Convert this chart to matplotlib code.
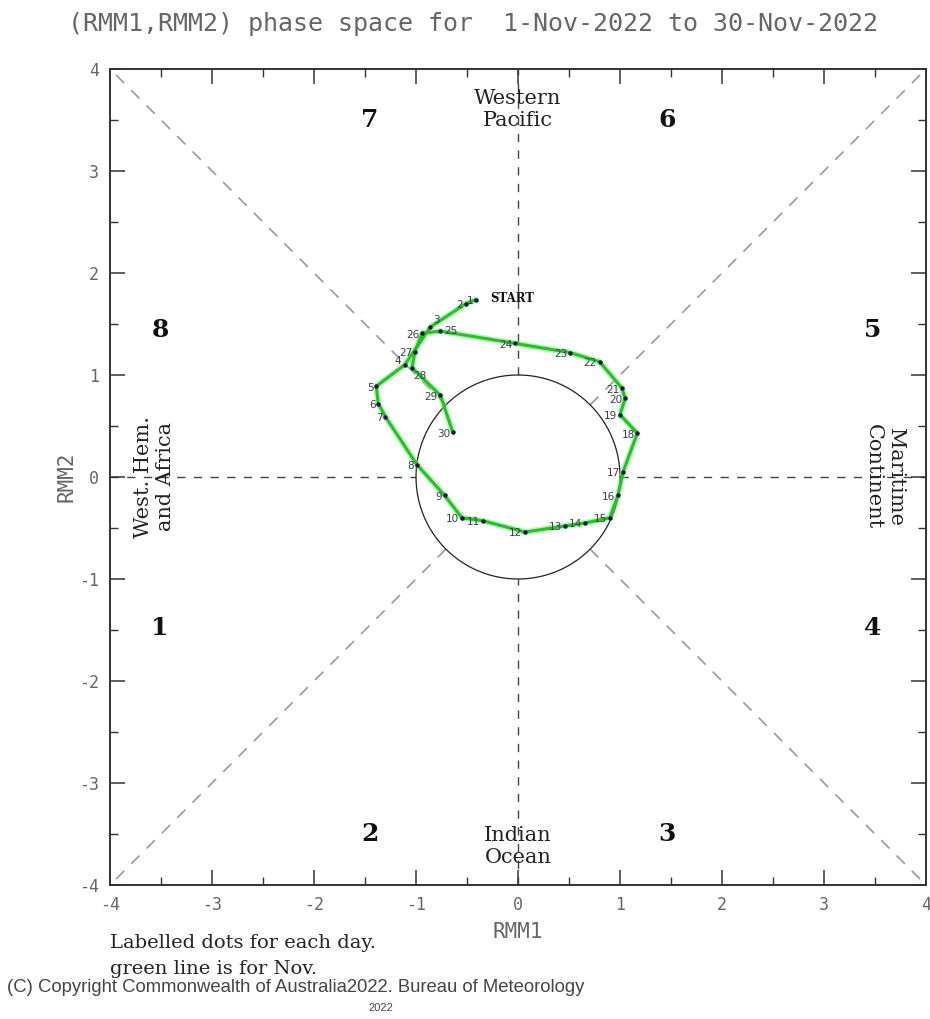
import numpy as np
import matplotlib
matplotlib.use("Agg")
import matplotlib.pyplot as plt
from matplotlib.ticker import MultipleLocator

# Daily RMM index values, 1-30 Nov 2022
days = list(range(1, 31))
rmm1 = [-0.41, -0.51, -0.86, -1.11, -1.39, -1.37, -1.30, -0.99, -0.72, -0.55,
        -0.34, 0.07, 0.46, 0.66, 0.90, 0.98, 1.03, 1.17, 1.00, 1.05,
        1.02, 0.80, 0.51, -0.03, -0.76, -0.94, -1.01, -1.04, -0.76, -0.64]
rmm2 = [1.74, 1.70, 1.47, 1.10, 0.89, 0.72, 0.59, 0.12, -0.18, -0.40,
        -0.43, -0.54, -0.48, -0.45, -0.40, -0.18, 0.05, 0.43, 0.61, 0.77,
        0.87, 1.13, 1.22, 1.31, 1.43, 1.41, 1.23, 1.07, 0.80, 0.44]

phase_labels = ["1", "2", "3", "4", "5", "6", "7", "8"]
phase_x = [-3.51, -1.45, 1.46, 3.48, 3.48, 1.46, -1.45, -3.51]
phase_y = [-1.48, -3.50, -3.50, -1.48, 1.44, 3.50, 3.50, 1.44]

tick_values = [-4, -3, -2, -1, 0, 1, 2, 3, 4]
tick_labels = ["-4", "-3", "-2", "-1", "0", "1", "2", "3", "4"]

fig = plt.figure(figsize=(9.30, 10.19), dpi=100)
ax = fig.add_axes([0.1183, 0.1315, 0.8774, 0.8008])
ax.set_xlim(-4, 4)
ax.set_ylim(-4, 4)

# Reference geometry: unit circle, axes and diagonals
theta = np.linspace(0, 2 * np.pi, 400)
ax.plot(np.cos(theta), np.sin(theta), color="#222222", lw=0.9, zorder=2)
dash_axis = dict(color="#444444", lw=1.0, dashes=(6, 6), zorder=1)
ax.plot([-4, -1], [0, 0], **dash_axis)
ax.plot([1, 4], [0, 0], **dash_axis)
ax.plot([0, 0], [-4, -1], **dash_axis)
ax.plot([0, 0], [1, 4], **dash_axis)
r = np.sqrt(0.5)
dash_diag = dict(color="#9a9a9a", lw=1.2, dashes=(7, 6), zorder=1)
for sx, sy in [(1, 1), (-1, 1), (1, -1), (-1, -1)]:
    ax.plot([sx * r, sx * 4], [sy * r, sy * 4], **dash_diag)

# Trajectory
ax.plot(rmm1, rmm2, color="#7ee87e", lw=4.5, alpha=0.5, zorder=3,
        solid_capstyle="round")
ax.plot(rmm1, rmm2, color="#22c322", lw=2.2, zorder=4,
        solid_capstyle="round", solid_joinstyle="round")
ax.plot(rmm1, rmm2, "o", color="#1a1a40", ms=2.2, zorder=5)

# Day labels sit left of each dot; a few crowded ones are nudged
label_shift = {3: (2, 5, "left"), 4: (-3, 3, "right"), 25: (3, 0, "left"),
               28: (1, -6, "left")}
for d, x, y in zip(days, rmm1, rmm2):
    dx, dy, ha = label_shift.get(d, (-2, -1, "right"))
    ax.annotate(str(d), (x, y), xytext=(dx, dy), textcoords="offset points",
                ha=ha, va="center", fontsize=7.5, color="#3a3a55",
                zorder=6)
ax.annotate("START", (rmm1[0], rmm2[0]), xytext=(10, 1),
            textcoords="offset points", ha="left", va="center",
            fontsize=8.5, fontweight="bold", family="DejaVu Serif",
            color="#111111", zorder=6)

# Phase numbers and regions
for lab, x, y in zip(phase_labels, phase_x, phase_y):
    ax.text(x, y, lab, ha="center", va="center", fontsize=18,
            family="DejaVu Serif", fontweight="bold", color="#111111")
serif = dict(family="DejaVu Serif", fontsize=15, color="#222222",
             ha="center", va="center", linespacing=1.2)
ax.text(0, 3.6, "Western\nPacific", **serif)
ax.text(0, -3.62, "Indian\nOcean", **serif)
ax.text(-3.56, 0.0, "West. Hem.\nand Africa", rotation=90, **serif)
ax.text(3.59, 0.0, "Maritime\nContinent", rotation=270, **serif)

# Axes styling
for s in ax.spines.values():
    s.set_color("#333333")
    s.set_linewidth(1.4)
ax.set_xticks(tick_values)
ax.set_xticklabels(tick_labels)
ax.set_yticks(tick_values)
ax.set_yticklabels(tick_labels)
ax.xaxis.set_minor_locator(MultipleLocator(0.5))
ax.yaxis.set_minor_locator(MultipleLocator(0.5))
ax.tick_params(which="both", direction="in", top=True, right=True,
               color="#333333")
ax.tick_params(which="major", length=11, width=1.1, labelsize=12,
               labelcolor="#666666", pad=8)
ax.tick_params(which="minor", length=6, width=1.0)
for lbl in ax.get_xticklabels() + ax.get_yticklabels():
    lbl.set_family("DejaVu Sans Mono")
ax.set_xlabel("RMM1", fontsize=15, family="DejaVu Sans Mono",
              color="#666666", labelpad=6)
ax.set_ylabel("RMM2", fontsize=15, family="DejaVu Sans Mono",
              color="#666666", labelpad=2)

fig.text(0.509, 0.976, "(RMM1,RMM2) phase space for  1-Nov-2022 to 30-Nov-2022",
         ha="center", va="center", fontsize=18, family="DejaVu Sans Mono",
         color="#666666")

fig.text(0.118, 0.075, "Labelled dots for each day.", ha="left", va="center",
         fontsize=14, family="DejaVu Serif", color="#222222")
fig.text(0.118, 0.049, "green line is for Nov.", ha="left", va="center",
         fontsize=14, family="DejaVu Serif", color="#222222")
fig.text(0.008, 0.031,
         "(C) Copyright Commonwealth of Australia2022. Bureau of Meteorology",
         ha="left", va="center", fontsize=13.3, family="Liberation Sans",
         color="#444444")
fig.text(0.396, 0.011, "2022", ha="left", va="center", fontsize=8,
         family="Liberation Sans", color="#444444")

fig.savefig("out.png", dpi=100, facecolor="white")
